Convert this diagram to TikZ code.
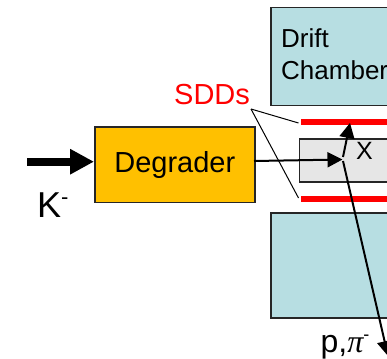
\documentclass[tikz,border=0pt]{standalone}
\usepackage{fontspec}
\setmainfont{Liberation Sans}
\newfontfamily\piserif{Liberation Serif}
\usetikzlibrary{arrows.meta}
\begin{document}
\begin{tikzpicture}[x=1pt,y=-1pt,
  txt/.style={inner sep=0pt,anchor=base west},
  flow/.style={draw=black,line width=2pt,-{Triangle[length=15pt,width=15pt]}},
  leader/.style={draw=black,line width=1pt}]
\path[use as bounding box] (0,0) rectangle (387,358);
\clip (0,0) rectangle (387,358);
\definecolor{chamberblue}{RGB}{183,222,226}
\definecolor{degorange}{RGB}{255,192,0}
\definecolor{boxgrey}{RGB}{230,230,230}
\draw[draw=black!85,line width=1.6pt,fill=chamberblue] (271,7.5) rectangle (400,105.5);
\draw[draw=black!85,line width=1.6pt,fill=chamberblue] (271,213) rectangle (400,318);
\node[txt,font=\fontsize{26}{28}\selectfont] (drift) at (281,47.5) {Drift};
\node[txt,font=\fontsize{26}{28}\selectfont] (chamber) at (281,80) {Chamber};
\node[draw=black!85,line width=1.6pt,fill=boxgrey,minimum width=110pt,minimum height=43pt,inner sep=0pt,anchor=north west] (target) at (298.5,138) {};
\fill[red] (301,119.5) rectangle (400,125.5);
\fill[red] (301,196) rectangle (400,202);
\node[draw=black!85,line width=1.6pt,fill=degorange,minimum width=160pt,minimum height=75pt,inner sep=0pt,anchor=north west,font=\fontsize{29}{31}\selectfont] (degrader) at (94,126.5) {Degrader};
\node[txt,font=\fontsize{25}{27}\selectfont] (x) at (356,159) {X};
\node[txt,font=\fontsize{29}{31}\selectfont,text=red] (sdds) at (174,105) {SDDs};
\node[txt,font=\fontsize{36}{38}\selectfont] (k) at (37,217.5) {K\raisebox{13pt}{\fontsize{22}{24}\selectfont -}};
\node[txt,font=\fontsize{32}{34}\selectfont] (p) at (320.5,352) {p,{\piserif\itshape π}\raisebox{12pt}{\fontsize{18}{20}\selectfont -}};
\coordinate (sddtip) at (251,109);
\coordinate (sddup) at (298.5,123);
\coordinate (sddlow) at (298.5,198);
\coordinate (kstart) at (27,161.7);
\coordinate (kend) at (94,161.7);
\coordinate (flowstart) at (254,161);
\coordinate (v) at (342.5,159.5);
\coordinate (upstart) at (343,157);
\coordinate (uptip) at (350,123);
\coordinate (downstart) at (343,161);
\coordinate (downtip) at (388,356);
\draw[leader] (sddtip) -- (sddup);
\draw[leader] (sddtip) -- (sddlow);
\draw[draw=black,line width=8pt,-{Triangle[length=24pt,width=24pt]}] (kstart) -- (kend);
\draw[flow] (flowstart) -- (v);
\draw[flow] (upstart) -- (uptip);
\draw[flow] (downstart) -- (downtip);
\end{tikzpicture}
\end{document}
